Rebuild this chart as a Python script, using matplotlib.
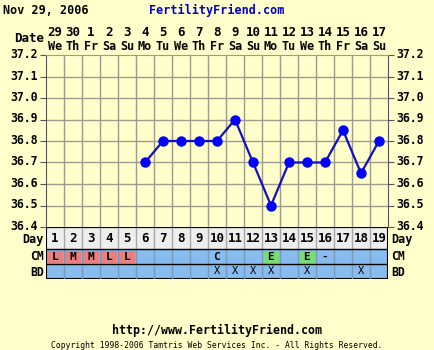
import matplotlib
matplotlib.use("Agg")
import matplotlib.pyplot as plt
import matplotlib.transforms as mtransforms
from matplotlib.patches import Rectangle

# ---- data ----
cycle_days = list(range(1, 20))
date_nums = ["29", "30", "1", "2", "3", "4", "5", "6", "7", "8", "9", "10",
             "11", "12", "13", "14", "15", "16", "17"]
weekdays = ["We", "Th", "Fr", "Sa", "Su", "Mo", "Tu", "We", "Th", "Fr", "Sa",
            "Su", "Mo", "Tu", "We", "Th", "Fr", "Sa", "Su"]
temp_days = [6, 7, 8, 9, 10, 11, 12, 13, 14, 15, 16, 17, 18, 19]
temps = [36.7, 36.8, 36.8, 36.8, 36.8, 36.9, 36.7, 36.5, 36.7, 36.7, 36.7,
         36.85, 36.65, 36.8]
y_ticks = [36.4, 36.5, 36.6, 36.7, 36.8, 36.9, 37.0, 37.1, 37.2]
cm_values = {1: "L", 2: "M", 3: "M", 4: "L", 5: "L", 10: "C", 13: "E",
             15: "E", 16: "-"}
bd_days = [10, 11, 12, 13, 15, 18]

W, H = 434, 350
BG = "#FFFFCC"
FONT = "DejaVu Sans Mono"

fig = plt.figure(figsize=(W / 100, H / 100), dpi=100, facecolor=BG)


def fx(px):
    return px / W


def fy(py):
    return 1 - py / H


L, R, T, B = 46, 388, 55, 227
ax = fig.add_axes([fx(L), fy(B), fx(R - L), (B - T) / H])
ax.set_facecolor(BG)
ax.set_xlim(0.5, 19.5)
ax.set_ylim(36.4, 37.2)
for x in range(1, 19):
    ax.axvline(x + 0.5, color="#A09A88", lw=1, zorder=1)
for y in y_ticks[1:-1]:
    ax.axhline(y, color="#A09A88", lw=1, zorder=1)
ax.plot(temp_days, temps, color="#1010C0", lw=1.6, zorder=3)
ax.plot(temp_days, temps, "o", color="#0000FF", ms=6.5, zorder=4)
ax.set_yticks(y_ticks)
ax.set_xticks([])
ax.tick_params(axis="y", which="both", left=True, right=True, labelleft=True,
               labelright=True, length=4, color="#555555", pad=2)
ax.yaxis.set_major_formatter(matplotlib.ticker.FormatStrFormatter("%.1f"))
offset = mtransforms.ScaledTranslation(0, 2 / 100, fig.dpi_scale_trans)
for lab in ax.get_yticklabels() + ax.yaxis.get_ticklabels(which="major"):
    lab.set_fontfamily(FONT)
    lab.set_fontweight("bold")
    lab.set_fontsize(8.3)
for t in ax.yaxis.get_major_ticks():
    t.label1.set_transform(t.label1.get_transform() + offset)
    t.label2.set_transform(t.label2.get_transform() + offset)
for s in ["left", "right"]:
    ax.spines[s].set_color("#555555")
ax.spines["top"].set_color("#A09A88")
ax.spines["bottom"].set_visible(False)

# ---- table below ----
TB = 279
tax = fig.add_axes([fx(L), fy(TB), fx(R - L), (TB - B) / H])
tax.set_xlim(0.5, 19.5)
tax.set_ylim(0, 52)
tax.axis("off")
tax.add_patch(Rectangle((0.5, 30), 19, 22, fc="#EEEEEE", ec="none"))
tax.add_patch(Rectangle((0.5, 0), 19, 30, fc="#88BBEE", ec="none"))
for d, v in cm_values.items():
    if v in ("L", "M"):
        tax.add_patch(Rectangle((d - 0.42, 16.5), 0.84, 12, fc="#E88080", ec="none"))
    elif v == "E":
        tax.add_patch(Rectangle((d - 0.42, 16.5), 0.84, 12, fc="#77DD77", ec="none"))
for x in range(1, 19):
    tax.plot([x + 0.5, x + 0.5], [30, 52], color="#A8A8A8", lw=1)
    tax.plot([x + 0.5, x + 0.5], [0, 30], color="#7799BB", lw=1)
tax.plot([0.5, 19.5], [15, 15], color="#000000", lw=1)
tax.plot([0.5, 19.5], [30, 30], color="#000000", lw=1)
tax.plot([0.5, 19.5], [52, 52], color="#000000", lw=1.5)
tax.add_patch(Rectangle((0.5, 0), 19, 52, fc="none", ec="#000000", lw=1.5))
txt = dict(fontfamily=FONT, fontweight="bold", ha="center", va="center")
for d in cycle_days:
    tax.text(d, 41, str(d), fontsize=9, **txt)
for d, v in cm_values.items():
    tax.text(d, 22.5, v, fontsize=8, **txt)
for d in bd_days:
    tax.text(d, 7.5, "X", fontsize=7.5, fontfamily=FONT, ha="center", va="center")

lbl = dict(fontfamily=FONT, fontweight="bold", va="center")
fig.text(fx(44), fy(239), "Day", ha="right", fontsize=8.5, **lbl)
fig.text(fx(44), fy(257), "CM", ha="right", fontsize=8.3, **lbl)
fig.text(fx(44), fy(272), "BD", ha="right", fontsize=8.3, **lbl)
fig.text(fx(391), fy(239), "Day", ha="left", fontsize=8.5, **lbl)
fig.text(fx(391), fy(257), "CM", ha="left", fontsize=8.3, **lbl)
fig.text(fx(391), fy(272), "BD", ha="left", fontsize=8.3, **lbl)

# ---- date header ----
for i, d in enumerate(cycle_days):
    xp = L + (d - 0.5) * 18
    fig.text(fx(xp), fy(33), date_nums[i], ha="center", fontsize=9, **lbl)
    fig.text(fx(xp), fy(46), weekdays[i], ha="center", fontsize=8.5, **lbl)
fig.text(fx(44), fy(39), "Date", ha="right", fontsize=9, **lbl)

# ---- titles ----
fig.text(fx(3), fy(10), "Nov 29, 2006", ha="left", fontsize=8.5, **lbl)
fig.text(fx(217), fy(10), "FertilityFriend.com", ha="center", fontsize=8.5,
         color="#0000CC", **lbl)
fig.text(fx(217), fy(330), "http://www.FertilityFriend.com", ha="center",
         fontsize=8.4, **lbl)
fig.text(fx(217), fy(345), "Copyright 1998-2006 Tamtris Web Services Inc. - All Rights Reserved.",
         ha="center", fontsize=5.8, fontfamily=FONT, va="center")

fig.savefig("out.png", dpi=100, facecolor=BG)
